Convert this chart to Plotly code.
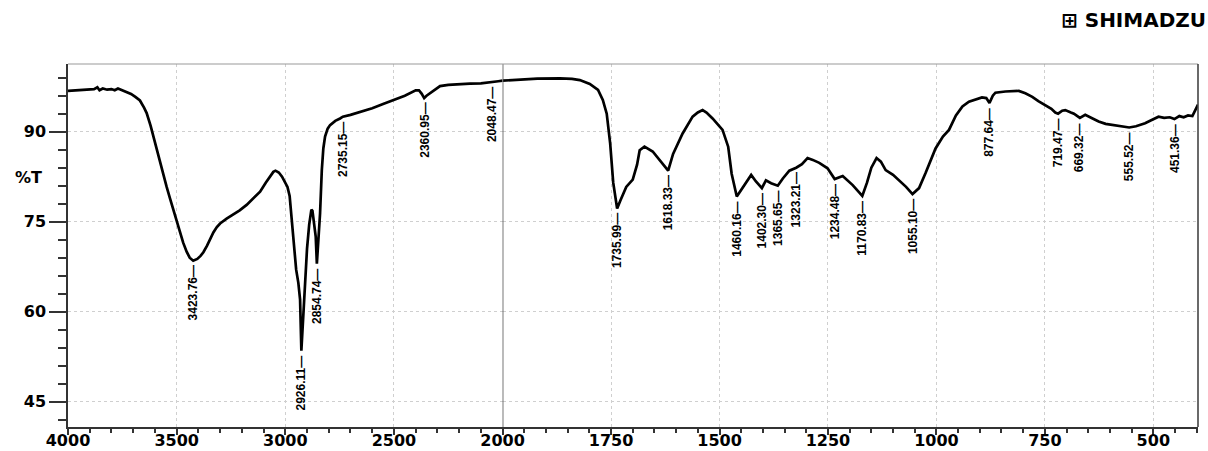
import plotly.graph_objects as go

# FTIR spectrum: wavenumber (cm-1) and transmittance (%T)
wavenumber = [
    4000, 3980, 3960, 3940, 3920, 3900, 3880, 3865, 3855, 3840, 3820, 3800, 3785, 3770,
    3750, 3730, 3710, 3690, 3669, 3650, 3638, 3620, 3607, 3590, 3577, 3560, 3546, 3530,
    3515, 3500, 3485, 3470, 3454, 3440, 3423.76, 3405, 3390, 3377, 3360, 3345, 3331, 3315,
    3300, 3270, 3239, 3210, 3178, 3150, 3116, 3090, 3070, 3055, 3045, 3030, 3015, 3000,
    2990, 2980, 2970, 2960, 2950, 2940, 2932, 2926.11, 2920, 2910, 2900, 2890, 2880, 2875,
    2868, 2860, 2854.74, 2848, 2840, 2832, 2825, 2817, 2805, 2794, 2770, 2748, 2735.15, 2700,
    2656, 2600, 2550, 2503, 2450, 2400, 2385, 2372, 2360.95, 2350, 2334, 2315, 2288, 2250,
    2196, 2150, 2100, 2048.47, 2020, 2000, 1960, 1920, 1868, 1840, 1822, 1799, 1780, 1769,
    1760, 1752, 1745, 1735.99, 1728, 1715, 1700, 1690, 1684, 1673, 1654, 1638, 1618.33, 1607,
    1585, 1562, 1550, 1539, 1530, 1516, 1493, 1480, 1472, 1460.16, 1447, 1435, 1427, 1416,
    1402.30, 1393, 1381, 1365.65, 1354, 1339, 1323.21, 1310, 1297, 1285, 1270, 1251, 1234.48, 1216,
    1193, 1170.83, 1160, 1150, 1138, 1128, 1117, 1100, 1086, 1070, 1055.10, 1040, 1025, 1002,
    985, 971, 955, 940, 925, 910, 895, 885, 877.64, 870, 864, 841, 820, 810,
    795, 779, 765, 749, 735, 726, 719.47, 710, 703, 690, 683, 669.32, 657, 640,
    626, 610, 595, 575, 555.52, 540, 519, 505, 488, 475, 462, 451.36, 440, 430,
    420, 410, 404, 400, 397,
]
transmittance = [
    96.8, 96.85, 96.9, 96.9, 97.0, 97.0, 97.1, 97.4, 96.9, 97.2, 97.0, 97.1, 96.9, 97.2,
    96.9, 96.7, 96.3, 95.8, 95.2, 94.0, 93.1, 91.0, 89.2, 86.8, 84.7, 82.5, 80.8, 78.8,
    77.0, 75.1, 73.1, 71.5, 70.0, 69.0, 68.5, 68.8, 69.3, 69.9, 71.0, 72.2, 73.2, 74.1,
    74.7, 75.5, 76.2, 76.9, 77.8, 78.8, 80.0, 81.5, 82.5, 83.3, 83.5, 83.2, 82.5, 81.6,
    80.8, 79.3, 75.5, 70.5, 67.0, 64.8, 62.0, 53.5, 58.0, 64.0, 70.5, 74.5, 77.0, 76.8,
    75.0, 72.5, 68.0, 72.0, 76.4, 83.6, 87.2, 89.2, 90.5, 91.1, 91.8, 92.2, 92.5, 92.8,
    93.3, 93.9, 94.6, 95.3, 96.0, 96.9, 96.9, 96.3, 95.6, 96.0, 96.4, 97.0, 97.6, 97.8,
    97.95, 98.0, 98.05, 98.2, 98.4, 98.5, 98.7, 98.85, 98.9, 98.8, 98.6, 97.95, 96.95, 95.3,
    93.0, 88.0, 81.5, 77.2, 78.6, 80.8, 82.0, 84.5, 86.9, 87.5, 86.7, 85.3, 83.5, 86.3,
    89.7, 92.5, 93.2, 93.6, 93.2, 92.2, 90.3, 87.5, 83.0, 79.2, 80.6, 81.8, 82.8, 81.7,
    80.6, 81.9, 81.4, 81.0, 82.2, 83.5, 84.0, 84.6, 85.6, 85.3, 84.8, 83.9, 82.1, 82.6,
    81.1, 79.3, 81.5, 84.0, 85.6, 85.0, 83.6, 82.8, 81.9, 80.8, 79.6, 80.6, 83.1, 87.2,
    89.2, 90.3, 92.7, 94.2, 95.0, 95.3, 95.7, 95.6, 94.8, 96.0, 96.5, 96.7, 96.8, 96.8,
    96.4, 95.8, 95.1, 94.45, 93.8, 93.2, 93.0, 93.5, 93.6, 93.2, 93.0, 92.3, 92.8, 92.2,
    91.7, 91.3, 91.1, 90.9, 90.7, 90.9, 91.4, 91.9, 92.5, 92.3, 92.4, 92.1, 92.6, 92.4,
    92.7, 92.6, 93.5, 94.3, 94.5,
]

# Labelled band positions
peak_labels = [
    "3423.76", "2926.11", "2854.74", "2735.15", "2360.95", "2048.47",
    "1735.99", "1618.33", "1460.16", "1402.30", "1365.65", "1323.21",
    "1234.48", "1170.83", "1055.10", "877.64", "719.47", "669.32",
    "555.52", "451.36",
]

x_ticks_high = [4000, 3500, 3000, 2500]
x_ticks_low = [2000, 1750, 1500, 1250, 1000, 750, 500]
y_ticks = [45, 60, 75, 90]

BREAK = 2000
SPLIT = 0.3846

hi = [(w, t) for w, t in zip(wavenumber, transmittance) if w >= BREAK]
lo = [(w, t) for w, t in zip(wavenumber, transmittance) if w <= BREAK]

line = dict(color="black", width=2.7)
fig = go.Figure()
fig.add_trace(go.Scatter(x=[p[0] for p in hi], y=[p[1] for p in hi], mode="lines",
                         line=line, xaxis="x", yaxis="y", showlegend=False))
fig.add_trace(go.Scatter(x=[p[0] for p in lo], y=[p[1] for p in lo], mode="lines",
                         line=line, xaxis="x2", yaxis="y", showlegend=False))

tickfont = dict(family="DejaVu Sans, Arial, sans-serif", size=16, color="black", weight="bold")
grid = dict(showgrid=True, gridcolor="#cfcfcf", gridwidth=1, griddash="dot")

xcommon = dict(ticks="outside", ticklen=6, tickwidth=1.5, tickcolor="#333",
               ticklabelstandoff=-8, showline=True, linecolor="#333", linewidth=1.5,
               tickfont=tickfont, zeroline=False, anchor="y", automargin=False, **grid)

fig.update_layout(
    width=1208, height=451,
    margin=dict(l=68, r=10, t=64, b=24),
    plot_bgcolor="white", paper_bgcolor="white",
    xaxis=dict(domain=[0, SPLIT], range=[4000, BREAK], tickvals=x_ticks_high,
               minor=dict(dtick=100, ticks="outside", ticklen=4, tickcolor="#333", showgrid=False),
               **xcommon),
    xaxis2=dict(domain=[SPLIT, 1], range=[BREAK, 397], tickvals=x_ticks_low,
                minor=dict(dtick=50, ticks="outside", ticklen=4, tickcolor="#333", showgrid=False),
                **xcommon),
    yaxis=dict(range=[40.78, 101.28], tickvals=y_ticks,
               ticks="outside", ticklen=17, tickwidth=1.5, tickcolor="#333",
               minor=dict(dtick=3, tick0=0, ticks="outside", ticklen=8, tickcolor="#333", showgrid=False),
               showline=True, linecolor="#333", linewidth=1.5, tickfont=tickfont,
               zeroline=False, automargin=False, **grid),
)

# Scale-change marker at 2000 cm-1 and the frame
fig.add_shape(type="line", xref="x2", yref="paper", x0=BREAK, x1=BREAK, y0=0, y1=1,
              line=dict(color="#555", width=1.6))
fig.add_shape(type="line", xref="paper", yref="paper", x0=0, x1=1, y0=1, y1=1,
              line=dict(color="#9a9a9a", width=1.2))
fig.add_shape(type="line", xref="paper", yref="paper", x0=1, x1=1, y0=0, y1=1,
              line=dict(color="#444", width=1.6))

# Peak annotations below each band
lookup = dict(zip(wavenumber, transmittance))
for lab in peak_labels:
    w = float(lab)
    fig.add_annotation(
        x=w, y=lookup[w], xref="x" if w >= BREAK else "x2", yref="y",
        text=lab + "\u2014", textangle=-90, showarrow=False,
        xanchor="center", yanchor="top", yshift=-3,
        font=dict(family="Liberation Sans Narrow, Arial Narrow, sans-serif", size=12,
                  color="black", weight="bold"),
    )

fig.add_annotation(x=0, y=82.3, xref="paper", yref="y", xshift=-40, text="%T",
                   showarrow=False, xanchor="center", yanchor="middle", font=tickfont)
fig.add_annotation(x=1, y=1, xref="paper", yref="paper", xshift=10, yshift=44,
                   text="\u229e SHIMADZU", showarrow=False, xanchor="right", yanchor="middle",
                   font=dict(family="DejaVu Sans, Arial, sans-serif", size=20, color="black",
                             weight="bold"))

fig.write_html("out.html")
